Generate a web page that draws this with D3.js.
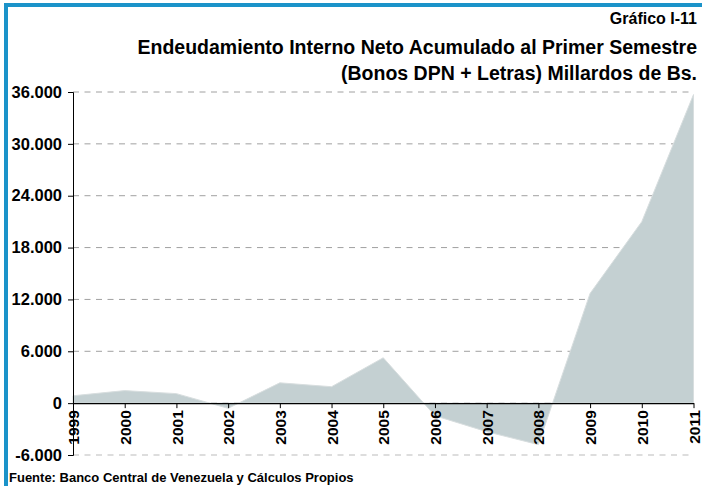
<!DOCTYPE html>
<html><head><meta charset="utf-8">
<script src="https://cdn.jsdelivr.net/npm/d3@7"></script>
<style>body{margin:0;background:#fff}svg{display:block}text{font-family:"Liberation Sans",Arial,sans-serif}</style>
</head><body>
<svg id="c" width="702" height="486"></svg>
<script>
const years = ["1999","2000","2001","2002","2003","2004","2005","2006","2007","2008","2009","2010","2011"];
const values = [850, 1450, 1100, -600, 2350, 1900, 5250, -1450, -3300, -4800, 12700, 21000, 35700];
const yTicks = [-6000, 0, 6000, 12000, 18000, 24000, 30000, 36000];
const titleLines = ["Gráfico I-11", "Endeudamiento Interno Neto Acumulado al Primer Semestre", "(Bonos DPN + Letras) Millardos de Bs."];
const source = "Fuente: Banco Central de Venezuela y Cálculos Propios";

const FF = "'Liberation Sans',Arial,sans-serif";
const svg = d3.select("#c");
const x = d3.scalePoint().domain(years).range([73, 693.5]);
const y = d3.scaleLinear().domain([-6000, 36000]).range([455, 92]);
const fmt = v => d3.format(",")(v).replace(/,/g, ".").replace("\u2212", "-");

// frame
svg.append("rect").attr("x",4).attr("y",3).attr("width",698).attr("height",4).attr("fill","#1b93c9");
svg.append("rect").attr("x",4).attr("y",3).attr("width",4).attr("height",483).attr("fill","#1b93c9");

// gridlines
svg.append("g").selectAll("line").data(yTicks).join("line")
  .attr("x1",73).attr("x2",693.5).attr("y1",d=>y(d)).attr("y2",d=>y(d))
  .attr("stroke",d=>d===-6000?"#bbb":"#a0a0a0").attr("stroke-width",1).attr("stroke-dasharray","6,5.5");

// area
const data = years.map((yr,i)=>({yr, v: values[i]}));
svg.append("path").datum(data)
  .attr("d", d3.area().x(d=>x(d.yr)).y0(y(0)).y1(d=>y(d.v)))
  .attr("fill","#c4d0d2").attr("stroke","#d8dedf").attr("stroke-width",1);

// y axis
const ya = svg.append("g").attr("transform","translate(73,0)")
  .call(d3.axisLeft(y).tickValues(yTicks).tickFormat(fmt).tickSize(5).tickPadding(6));
ya.attr("font-family",FF);
ya.select(".domain").attr("stroke","#000");
ya.selectAll("line").attr("stroke","#000");
ya.selectAll("text").attr("font-size",16.5).attr("font-weight","bold").attr("fill","#000").attr("font-family",FF);

// x axis at zero
const xa = svg.append("g").attr("transform",`translate(0,${y(0)})`)
  .call(d3.axisBottom(x).tickSize(5).tickSizeOuter(0));
xa.attr("font-family",FF);
xa.select(".domain").attr("stroke","#000").attr("stroke-width",1.2);
xa.selectAll("line").attr("stroke","#000");
xa.selectAll("text").attr("font-size",15.5).attr("font-weight","bold").attr("fill","#000").attr("font-family",FF)
  .attr("transform","rotate(-90)").attr("text-anchor","end").attr("dy","0.36em")
  .attr("x",-7).attr("y",0);

// titles
const tsz = [16, 19.5, 19.5];
const tys = [24, 54, 80];
svg.append("g").selectAll("text").data(titleLines).join("text")
  .attr("x",697).attr("y",(d,i)=>tys[i]).attr("text-anchor","end").attr("font-family",FF)
  .attr("font-size",(d,i)=>tsz[i]).attr("font-weight","bold").attr("fill","#000").text(d=>d);

svg.append("text").attr("x",9).attr("y",482).attr("font-size",13).attr("font-weight","bold").attr("font-family",FF).text(source);
</script>
</body></html>
